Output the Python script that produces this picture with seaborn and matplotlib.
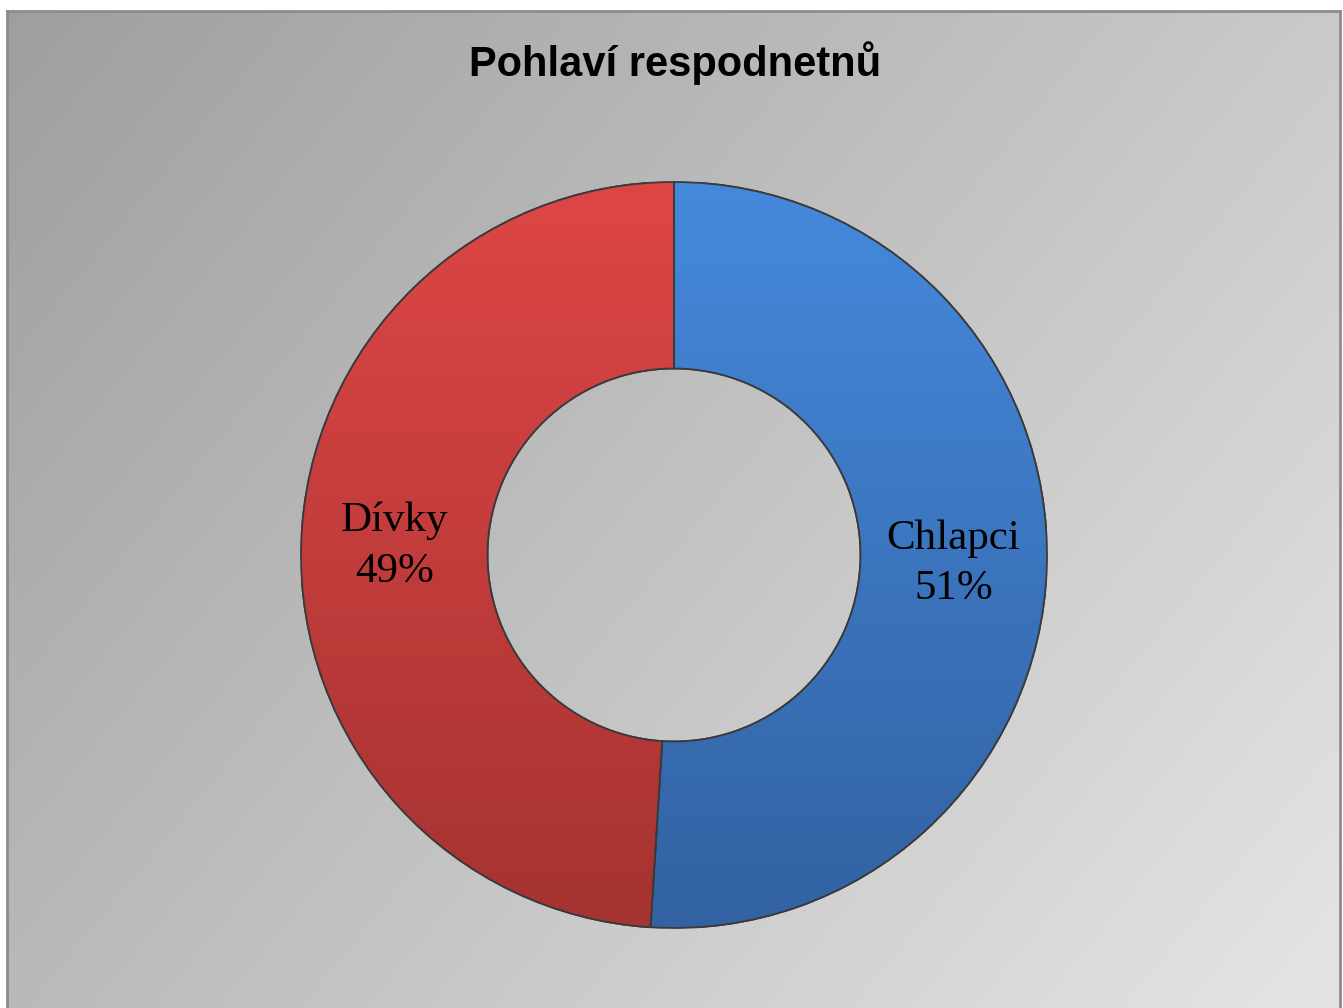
import numpy as np
import matplotlib
matplotlib.use("Agg")
import matplotlib.pyplot as plt
from matplotlib.colors import LinearSegmentedColormap
import seaborn as sns

# Data
labels = ["Chlapci", "Dívky"]
shares = [51, 49]
colors = ["#3c78c6", "#c93e3c"]
# top / bottom shades for each slice
shades = [("#4589dc", "#3262a2"), ("#de4646", "#a53331")]
title = "Pohlaví respodnetnů"

sns.set_theme(style="white")

fig = plt.figure(figsize=(13.43, 10.08), dpi=100)
fig.patch.set_facecolor("white")

# Gradient background panel (frame starts a few px in from top/left)
W, H = 1343, 1008
fx0, fy0, fx1 = 7, 11, 1340
bg = fig.add_axes([fx0 / W, 0, (fx1 - fx0) / W, (H - fy0) / H])
xx, yy = np.meshgrid(np.linspace(0, 1, 200), np.linspace(0, 1, 200))
t = (xx * 0.62 + yy * 0.38)
grad = 158 + t * 70
bg.imshow(grad, cmap="gray", vmin=0, vmax=255, extent=[0, 1, 0, 1],
          aspect="auto", origin="upper", interpolation="bicubic")
bg.set_xticks([])
bg.set_yticks([])
for side in ["left", "top", "right"]:
    bg.spines[side].set_visible(True)
    bg.spines[side].set_color("#8c8c8c")
    bg.spines[side].set_linewidth(2)
bg.spines["bottom"].set_visible(False)

# Donut
cx, cy, r = 674, 555, 373
ax = fig.add_axes([(cx - r) / W, (H - cy - r) / H, 2 * r / W, 2 * r / H])
ax.set_facecolor("none")
wedges, texts = ax.pie(
    shares,
    colors=colors,
    startangle=90,
    counterclock=False,
    radius=1.0,
    labels=[f"{l}\n{s}%" for l, s in zip(labels, shares)],
    labeldistance=0.75,
    wedgeprops=dict(width=0.5, edgecolor="#3a3a3a", linewidth=1.3),
    textprops=dict(family="Liberation Serif", fontsize=31, color="black",
                   ha="center", va="center", linespacing=1.4),
)

# vertical shading inside each slice
vert = np.linspace(0, 1, 256).reshape(-1, 1)
for w, (top, bot) in zip(wedges, shades):
    cm = LinearSegmentedColormap.from_list("s", [top, bot])
    im = ax.imshow(vert, cmap=cm, extent=[-1, 1, -1, 1], origin="upper",
                   aspect="auto", zorder=w.get_zorder() + 0.1)
    im.set_clip_path(w)
    edge = plt.matplotlib.patches.PathPatch(
        w.get_path(), transform=w.get_transform(), facecolor="none",
        edgecolor="#3a3a3a", linewidth=1.3, zorder=w.get_zorder() + 0.2)
    ax.add_patch(edge)
for tx in texts:
    tx.set_zorder(5)

ax.set_xlim(-1, 1)
ax.set_ylim(-1, 1)
ax.set_aspect("equal")
ax.axis("off")

fig.text(675 / W, 1 - 63 / H, title, ha="center", va="center",
         fontsize=30, fontweight="bold", family="Liberation Sans",
         color="black")

fig.savefig("out.png", dpi=100)
